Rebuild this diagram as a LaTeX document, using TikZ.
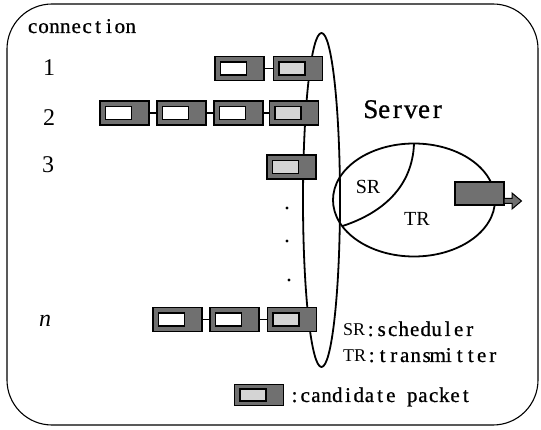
\documentclass[tikz,border=0pt]{standalone}
\usepackage{fontspec}
\setmainfont{Liberation Serif}
\newfontfamily\mfont[FakeBold=0.8]{Liberation Serif}
\usetikzlibrary{shapes.geometric,calc}
\definecolor{pktgray}{RGB}{112,112,112}
\definecolor{candgray}{RGB}{212,212,212}
\newlength\cellw
\def\monoA#1{\ifx\relax#1\else\makebox[\cellw][c]{#1}\expandafter\monoA\fi}
\newcommand\mtext[2]{\setlength\cellw{#1}\monoA#2\relax}
\tikzset{
  pkt/.style={draw=black, line width=1.5pt, fill=pktgray, minimum width=49pt,
    minimum height=24pt, inner sep=0pt, outer sep=0pt,
    path picture={\draw[line width=1.1pt, fill=#1]
      ([xshift=5.5pt,yshift=-5.5pt]path picture bounding box.north west)
      rectangle ++(26pt,-13pt);}},
  pkt/.default=white,
  link/.style={draw=black, line width=1.4pt},
  ring/.style={draw=black, line width=1.8pt, ellipse, inner sep=0pt, outer sep=0pt},
  monotxt/.style={inner sep=0pt, anchor=base west, font=\mfont\fontsize{21}{21}\selectfont},
  numtxt/.style={inner sep=0pt, anchor=base, font=\fontsize{24}{24}\selectfont},
  dotn/.style={circle, fill=black, inner sep=0pt, minimum size=3.2pt},
}
\begin{document}
\begin{tikzpicture}[x=1pt,y=-1pt]
\useasboundingbox (0,0) rectangle (541,430);
% frame
\node[draw=black, line width=1.1pt, rounded corners=45pt, minimum width=531pt,
  minimum height=421pt, inner sep=0pt] (frame) at (272.5,214.5) {};
% labels
\node[monotxt] (conn) at (27,33) {\mtext{10.9pt}{connection}};
\node[numtxt] (n1) at (49,76) {1};
\node[numtxt] (n2) at (49,126) {2};
\node[numtxt] (n3) at (48,173) {3};
\node[numtxt] (nn) at (45,327) {\itshape n};
% queue ellipse
\node[ring, minimum width=37pt, minimum height=334pt] (queue) at (321.5,200) {};
% server
\node[ring, minimum width=162pt, minimum height=113pt] (server) at (414,200) {};
\draw[line width=1.8pt] (server.north) to[out=-92,in=18] (server.200);
\node[inner sep=0pt, anchor=base west, font=\mfont\fontsize{27}{27}\selectfont] (srvlbl) at (364,118) {\mtext{13.3pt}{Server}};
\node[inner sep=0pt, font=\fontsize{20}{20}\selectfont] (sr) at (368,186.5) {SR};
\node[inner sep=0pt, font=\fontsize{20}{20}\selectfont] (tr) at (417,218.5) {TR};
% output packet and arrow
\node[draw=black, line width=1.1pt, fill=pktgray, minimum width=49pt, minimum height=23pt,
  inner sep=0pt, outer sep=0pt] (outp) at (479.5,193.5) {};
\draw[line width=1pt, fill=pktgray] ([yshift=1.5pt]outp.south east) -- ++(8pt,0pt)
  -- ++(0pt,-5.5pt) -- ++(9.5pt,8pt) -- ++(-9.5pt,8pt) -- ++(0pt,-5.5pt) -- ++(-8pt,0pt) -- cycle;
% row 1
\node[pkt] (p11) at (239.5,68.5) {};
\node[pkt=candgray] (p12) at (298,68.5) {};
\draw[link] (p11.east) -- (p12.west);
% row 2
\node[pkt] (p21) at (124.5,113) {};
\node[pkt] (p22) at (181.5,113) {};
\node[pkt] (p23) at (238.5,113) {};
\node[pkt=candgray] (p24) at (294,113) {};
\draw[link] (p21.east) -- (p22.west);
\draw[link] (p22.east) -- (p23.west);
\draw[link] (p23.east) -- (p24.west);
% row 3
\node[pkt=candgray] (p31) at (291.5,167) {};
% dots
\node[dotn] (d1) at (287,208) {};
\node[dotn] (d2) at (287,241) {};
\node[dotn] (d3) at (289,280) {};
% row n
\node[pkt] (pn1) at (177.5,319.5) {};
\node[pkt] (pn2) at (234.5,319.5) {};
\node[pkt=candgray] (pn3) at (292,319.5) {};
\draw[link] (pn1.east) -- (pn2.west);
\draw[link] (pn2.east) -- (pn3.west);
% legend
\node[inner sep=0pt, anchor=base west] (lsr) at (343,336)
  {{\fontsize{18}{18}\selectfont SR}{\mfont\fontsize{21}{21}\selectfont\mtext{11pt}{:scheduler}}};
\node[inner sep=0pt, anchor=base west] (ltr) at (343,362)
  {{\fontsize{18}{18}\selectfont TR}{\mfont\fontsize{21}{21}\selectfont\mtext{11pt}{:transmitter}}};
\node[pkt=candgray, minimum height=21pt,
  path picture={\draw[line width=1.1pt, fill=candgray]
      ([xshift=5.5pt,yshift=-4.5pt]path picture bounding box.north west)
      rectangle ++(26pt,-12pt);}] (lpkt) at (259,395) {};
\node[monotxt] (lcand) at (289,402)
  {\mtext{10.7pt}{:candidate}\hspace{10.7pt}\mtext{10.7pt}{packet}};
\end{tikzpicture}
\end{document}
